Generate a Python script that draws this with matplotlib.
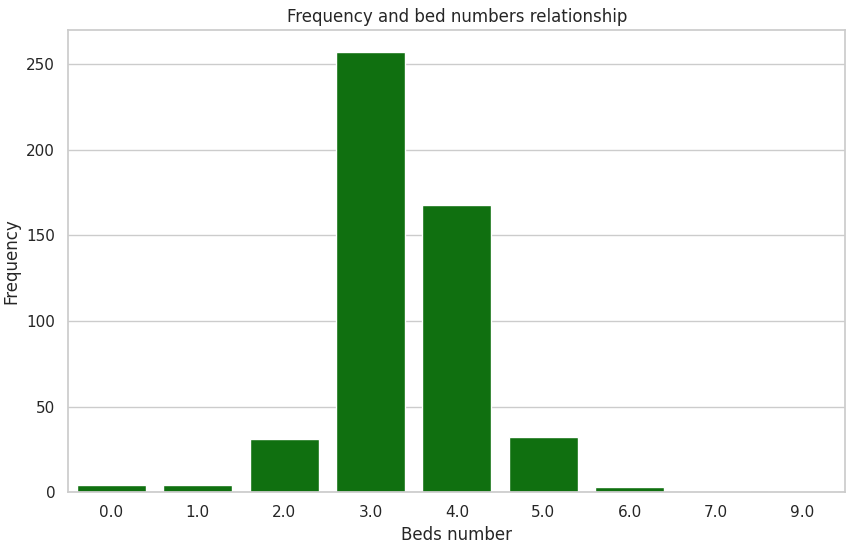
import matplotlib
matplotlib.use("Agg")
import matplotlib.pyplot as plt
import seaborn as sns

beds = ["0.0", "1.0", "2.0", "3.0", "4.0", "5.0", "6.0", "7.0", "9.0"]
counts = [4, 4, 31, 257, 168, 32, 3, 1, 1]

sns.set_theme(style="whitegrid")
fig, ax = plt.subplots(figsize=(8.54, 5.5), dpi=100)
sns.barplot(x=beds, y=counts, color="green", ax=ax)
ax.set_title("Frequency and bed numbers relationship")
ax.set_xlabel("Beds number")
ax.set_ylabel("Frequency")
plt.subplots_adjust(left=0.08, right=0.99, top=0.945, bottom=0.105)
fig.savefig("out.png")
